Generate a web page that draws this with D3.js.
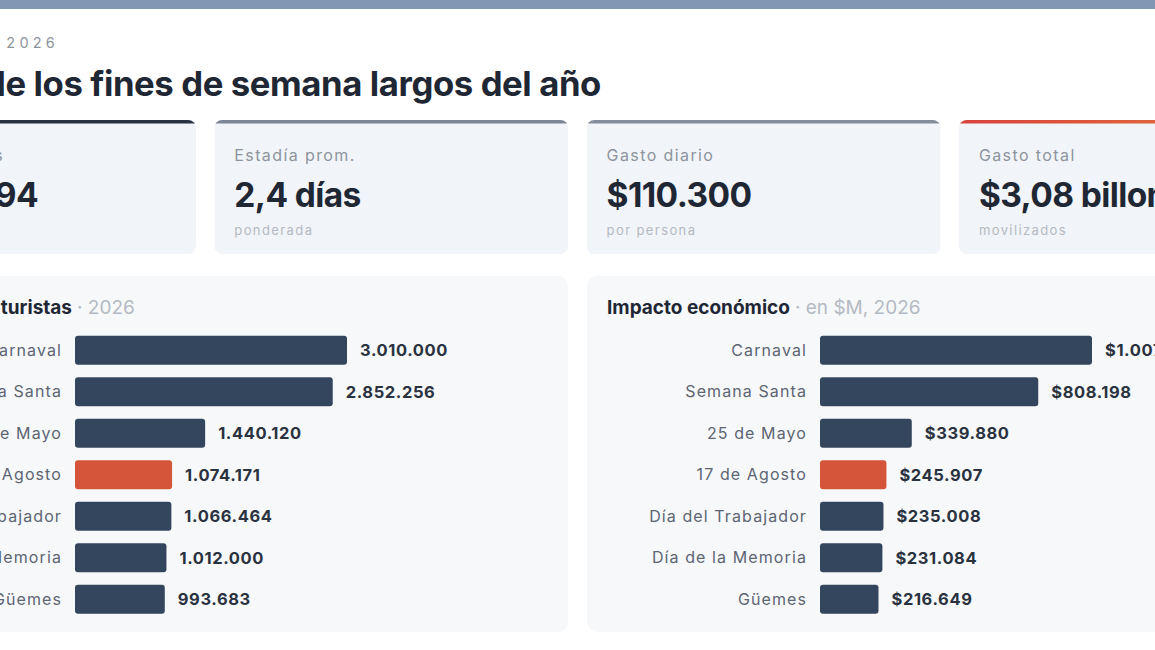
<!DOCTYPE html>
<html lang="es">
<head>
<meta charset="utf-8">
<title>Fines de semana largos 2026</title>
<script src="https://cdn.jsdelivr.net/npm/d3@7/dist/d3.min.js"></script>
<style>
    html, body { margin: 0; padding: 0; background: #ffffff; overflow: hidden; }
    svg { display: block; font-family: Inter, "Noto Sans", sans-serif; }
</style>
</head>
<body>
<svg id="tablero" width="1155" height="650"></svg>
<script>
/* globals d3:false */

// Datos
var feriados = ['Carnaval', 'Semana Santa', '25 de Mayo', '17 de Agosto',
    'Día del Trabajador', 'Día de la Memoria', 'Güemes'];
var turistas = [3010000, 2852256, 1440120, 1074171, 1066464, 1012000, 993683];
var impacto = [1007224, 808198, 339880, 245907, 235008, 231084, 216649];
var destacado = '17 de Agosto';

var kpiLabels = ['Turistas totales', 'Estadía prom.', 'Gasto diario', 'Gasto total'];
var kpiValues = ['11.448.694', '2,4 días', '$110.300', '$3,08 billones'];
var kpiNotes = ['en 7 findes', 'ponderada', 'por persona', 'movilizados'];

var es = d3.formatLocale({decimal: ',', thousands: '.', grouping: [3], currency: ['$', '']});
var fmtNum = es.format(',d');
var fmtPesos = es.format('$,d');

var colors = {
    ink: '#1f2735',
    bar: '#34465e',
    accent: '#d5553a',
    label: '#5d6573',
    muted: '#8d949e',
    faint: '#b4bac3',
    card: '#f1f4f8',
    panel: '#f6f8fa'
};

var svg = d3.select('#tablero');
var defs = svg.append('defs');

// Franja superior
svg.append('rect')
    .attr('x', 0).attr('y', 0)
    .attr('width', 1155).attr('height', 9)
    .attr('fill', '#8297b4');

// Encabezado (cortado a la izquierda en el original)
svg.append('text')
    .attr('x', 59).attr('y', 48)
    .attr('text-anchor', 'end')
    .attr('font-size', 14.5)
    .attr('letter-spacing', 4.2)
    .attr('fill', colors.muted)
    .text('TURISMO INTERNO  2026');

svg.append('text')
    .attr('x', 601).attr('y', 96)
    .attr('text-anchor', 'end')
    .attr('font-size', 34.7)
    .attr('font-weight', 700)
    .attr('letter-spacing', -0.4)
    .attr('fill', colors.ink)
    .text('Impacto turístico de los fines de semana largos del año');

// Tarjetas KPI
var grad = defs.append('linearGradient').attr('id', 'borde-total');
grad.append('stop').attr('offset', '0%').attr('stop-color', '#d8423c');
grad.append('stop').attr('offset', '100%').attr('stop-color', '#e07c3b');

var kpiBorders = ['#273142', '#7b8595', '#838d9c', 'url(#borde-total)'];
var cardW = 354, cardH = 134, cardTop = 120;
var cardX = d3.scaleLinear().domain([0, 1]).range([-158, 214.3]);

var cards = svg.selectAll('g.kpi')
    .data(kpiLabels.map(function(d, i) {
        return {label: d, value: kpiValues[i], note: kpiNotes[i], border: kpiBorders[i], i: i};
    }))
    .enter().append('g')
    .attr('class', 'kpi')
    .attr('transform', function(d) { return 'translate(' + cardX(d.i) + ',' + cardTop + ')'; });

cards.append('clipPath')
    .attr('id', function(d) { return 'clip-kpi-' + d.i; })
    .append('rect')
    .attr('width', cardW).attr('height', cardH).attr('rx', 8);

cards.append('rect')
    .attr('width', cardW).attr('height', cardH)
    .attr('clip-path', function(d) { return 'url(#clip-kpi-' + d.i + ')'; })
    .attr('fill', colors.card);

cards.append('rect')
    .attr('width', cardW).attr('height', 3.5)
    .attr('clip-path', function(d) { return 'url(#clip-kpi-' + d.i + ')'; })
    .attr('fill', function(d) { return d.border; });

// La primera tarjeta queda cortada: se alinean sus textos por el final visible
var ends = {label: 162, value: 196};

cards.append('text')
    .attr('x', function(d) { return d.i === 0 ? ends.label : 20; })
    .attr('y', 41)
    .attr('text-anchor', function(d) { return d.i === 0 ? 'end' : 'start'; })
    .attr('font-size', 16)
    .attr('letter-spacing', 1.4)
    .attr('fill', colors.muted)
    .text(function(d) { return d.label; });

cards.append('text')
    .attr('x', function(d) { return d.i === 0 ? ends.value : 20; })
    .attr('y', 87)
    .attr('text-anchor', function(d) { return d.i === 0 ? 'end' : 'start'; })
    .attr('font-size', 33.5)
    .attr('font-weight', 700)
    .attr('letter-spacing', -0.6)
    .attr('fill', colors.ink)
    .text(function(d) { return d.value; });

cards.append('text')
    .attr('x', 20).attr('y', 115)
    .attr('font-size', 13)
    .attr('letter-spacing', 1.4)
    .attr('fill', colors.faint)
    .text(function(d) { return d.note; });

// Gráfico de barras horizontales reutilizable
function barPanel() {
    var width = 726, height = 356, left = 233, barMax = 272,
        title = '', subtitle = '', titleEnd = null,
        format = String, highlight = null;

    function chart(selection) {
        selection.each(function(data) {
            var g = d3.select(this);

            g.append('rect')
                .attr('width', width).attr('height', height)
                .attr('rx', 10)
                .attr('fill', colors.panel);

            var x = d3.scaleLinear()
                .domain([0, d3.max(data, function(d) { return d.value; })])
                .range([0, barMax]);

            var y = d3.scaleBand()
                .domain(data.map(function(d) { return d.name; }))
                .range([53.5, 344])
                .paddingInner(0.3)
                .paddingOuter(0.15);

            // Título + bajada
            var t = g.append('text')
                .attr('x', titleEnd === null ? 20 : titleEnd)
                .attr('y', 38)
                .attr('text-anchor', titleEnd === null ? 'start' : 'end')
                .attr('font-size', 19)
                .attr('font-weight', 700)
                .attr('fill', colors.ink)
                .text(title);

            var box = t.node().getBBox();
            g.append('text')
                .attr('x', box.x + box.width + 5)
                .attr('y', 38)
                .attr('font-size', 19)
                .attr('fill', colors.faint)
                .text('· ' + subtitle);

            var rows = g.selectAll('g.row')
                .data(data)
                .enter().append('g')
                .attr('class', 'row')
                .attr('transform', function(d) { return 'translate(0,' + y(d.name) + ')'; });

            rows.append('text')
                .attr('x', left - 13)
                .attr('y', y.bandwidth() / 2)
                .attr('dy', '0.35em')
                .attr('text-anchor', 'end')
                .attr('font-size', 16)
                .attr('letter-spacing', 1.1)
                .attr('fill', colors.label)
                .text(function(d) { return d.name; });

            rows.append('rect')
                .attr('x', left)
                .attr('width', function(d) { return x(d.value); })
                .attr('height', y.bandwidth())
                .attr('rx', 3)
                .attr('fill', function(d) { return d.name === highlight ? colors.accent : colors.bar; });

            rows.append('text')
                .attr('x', function(d) { return left + x(d.value) + 13; })
                .attr('y', y.bandwidth() / 2)
                .attr('dy', '0.35em')
                .attr('font-size', 16.5)
                .attr('font-weight', 700)
                .attr('letter-spacing', 0.6)
                .attr('fill', '#2a3240')
                .text(function(d) { return format(d.value); });
        });
    }

    chart.title = function(_) { if (!arguments.length) { return title; } title = _; return chart; };
    chart.subtitle = function(_) { if (!arguments.length) { return subtitle; } subtitle = _; return chart; };
    chart.titleEnd = function(_) { if (!arguments.length) { return titleEnd; } titleEnd = _; return chart; };
    chart.format = function(_) { if (!arguments.length) { return format; } format = _; return chart; };
    chart.highlight = function(_) { if (!arguments.length) { return highlight; } highlight = _; return chart; };

    return chart;
}

function rowsOf(values) {
    return feriados.map(function(name, i) { return {name: name, value: values[i]}; });
}

var turistasChart = barPanel()
    .title('Cantidad de turistas')
    .subtitle('2026')
    .titleEnd(230)
    .format(fmtNum)
    .highlight(destacado);

var impactoChart = barPanel()
    .title('Impacto económico')
    .subtitle('en $M, 2026')
    .format(fmtPesos)
    .highlight(destacado);

svg.append('g')
    .attr('transform', 'translate(-158,276)')
    .datum(rowsOf(turistas))
    .call(turistasChart);

svg.append('g')
    .attr('transform', 'translate(587,276)')
    .datum(rowsOf(impacto))
    .call(impactoChart);
</script>
</body>
</html>
